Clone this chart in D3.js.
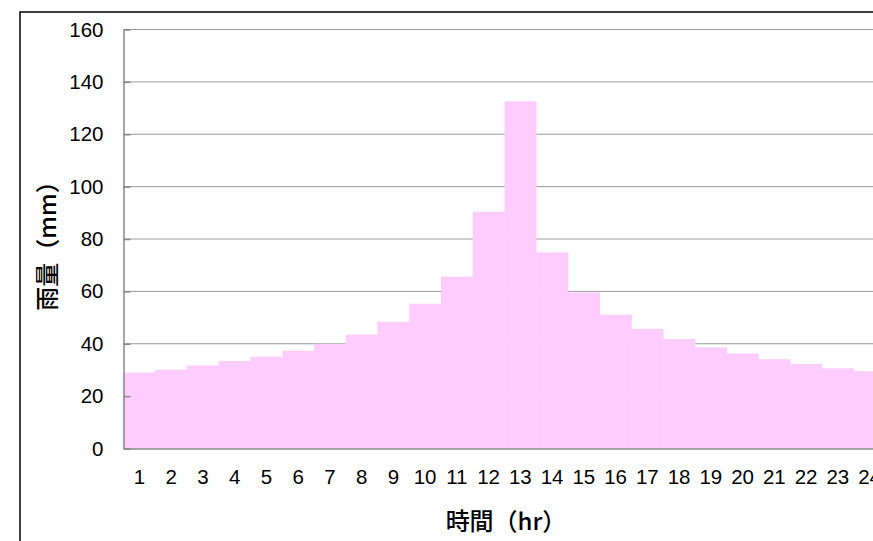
<!DOCTYPE html>
<html>
<head>
<meta charset="utf-8">
<script src="https://cdn.jsdelivr.net/npm/d3@7"></script>
<style>
    html, body { margin: 0; padding: 0; background: #fff; overflow: hidden; }
    svg { display: block; }
</style>
</head>
<body>
<svg id="chart" width="873" height="541"></svg>
<script>
//#region DATA
var hours = [1,2,3,4,5,6,7,8,9,10,11,12,13,14,15,16,17,18,19,20,21,22,23,24];
var rainfall = [29,30.1,31.7,33.4,35.1,37.3,40,43.5,48.4,55.3,65.6,90.4,132.6,74.9,59.6,51.1,45.7,41.8,38.6,36.3,34.1,32.3,30.6,29.5];
var yTicks = [0,20,40,60,80,100,120,140,160];
var yTitle = "雨量（mm）";
var xTitle = "時間（hr）";

//#region LAYOUT
var plotLeft = 123.5, plotTop = 29.5, plotBottom = 448.5;
var bandW = 31.75;
var svg = d3.select("#chart");

var x = d3.scaleBand()
    .domain(hours)
    .range([plotLeft, plotLeft + bandW * hours.length])
    .paddingInner(0).paddingOuter(0);

var y = d3.scaleLinear()
    .domain([0, 160])
    .range([plotBottom, plotTop]);

// outer frame of the chart (runs off the right/bottom edge)
svg.append("rect")
    .attr("x", 20).attr("y", 12)
    .attr("width", 900).attr("height", 600)
    .style("fill", "none")
    .style("stroke", "#000")
    .style("stroke-width", "1.5px");

//#region GRID
svg.append("g").selectAll("line")
    .data(yTicks.filter(function(d){ return d > 0; }))
    .enter().append("line")
        .attr("x1", plotLeft).attr("x2", 900)
        .attr("y1", function(d){ return y(d); })
        .attr("y2", function(d){ return y(d); })
        .style("stroke", "#9a9a9a")
        .style("stroke-width", "1px");

//#region BARS
svg.append("g").selectAll("rect")
    .data(rainfall)
    .enter().append("rect")
        .attr("x", function(d,i){ return x(hours[i]); })
        .attr("y", function(d){ return y(d); })
        .attr("width", x.bandwidth() + 0.3)
        .attr("height", function(d){ return y(0) - y(d); })
        .style("fill", "#ffccff");

//#region AXES
var yAxis = d3.axisLeft(y)
    .tickValues(yTicks)
    .tickSizeInner(-7)
    .tickSizeOuter(0)
    .tickPadding(20);

var gy = svg.append("g")
    .attr("transform", `translate(${plotLeft},0)`)
    .call(yAxis);
gy.select(".domain").style("stroke", "#888").style("stroke-width", "1.5px");
gy.selectAll(".tick line").style("stroke", "#888").style("stroke-width", "1.5px");
gy.selectAll(".tick text")
    .style("font-family", "'Liberation Sans', Arial, sans-serif")
    .style("font-size", "20.5px")
    .style("fill", "#000");

var xAxis = d3.axisBottom(x)
    .tickSize(0)
    .tickPadding(21);

var gx = svg.append("g")
    .attr("transform", `translate(0,${plotBottom})`)
    .call(xAxis);
gx.select(".domain").style("stroke", "#888").style("stroke-width", "1.5px");
gx.selectAll(".tick text")
    .style("font-family", "'Liberation Sans', Arial, sans-serif")
    .style("font-size", "20.5px")
    .style("fill", "#000");

//#region TITLES
svg.append("text")
    .attr("transform", "translate(56,240) rotate(-90)")
    .attr("text-anchor", "middle")
    .style("font-family", "'Noto Sans CJK JP', sans-serif")
    .style("font-size", "24px")
    .style("font-weight", "500")
    .text(yTitle);

svg.append("text")
    .attr("x", 506).attr("y", 530)
    .attr("text-anchor", "middle")
    .style("font-family", "'Noto Sans CJK JP', sans-serif")
    .style("font-size", "24px")
    .style("font-weight", "500")
    .text(xTitle);
</script>
</body>
</html>
